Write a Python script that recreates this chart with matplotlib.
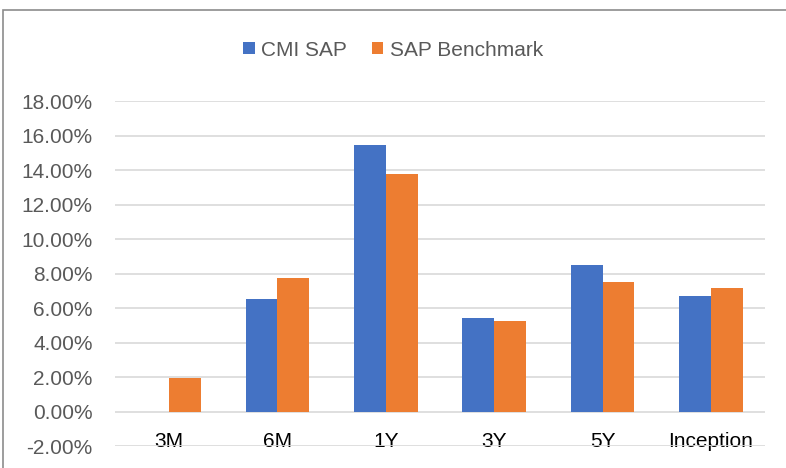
import numpy as np
import matplotlib.pyplot as plt
from matplotlib.patches import Rectangle

plt.rcParams['font.family'] = ['Liberation Sans', 'DejaVu Sans']

periods = ["3M", "6M", "1Y", "3Y", "5Y", "Inception"]
cmi_sap = [np.nan, 6.55, 15.45, 5.42, 8.49, 6.72]
sap_benchmark = [1.96, 7.77, 13.80, 5.25, 7.50, 7.17]
yticks = np.arange(-2, 20, 2)

fig = plt.figure(figsize=(7.86, 4.68), dpi=100)
ax = fig.add_axes([0.1463, 0.047, 0.827, 0.737])

x = np.arange(len(periods))
w = 0.295
ax.bar(x - w/2, cmi_sap, w, color="#4472C4", label="CMI SAP", zorder=3)
ax.bar(x + w/2, sap_benchmark, w, color="#ED7D31", label="SAP Benchmark", zorder=3)

ax.set_ylim(-2, 18)
ax.set_xlim(-0.5, len(periods) - 0.5)
ax.set_yticks(yticks)
ax.set_yticklabels([f"{v:.2f}%" for v in yticks], color="#595959", fontsize=15)
ax.set_xticks(x)
ax.set_xticklabels(periods, fontsize=15, color="#000000")
ax.tick_params(axis='x', length=0, pad=-10)
ax.tick_params(axis='y', length=0, pad=16)
ax.grid(axis='y', color="#D9D9D9", lw=1.2, zorder=0)
for s in ax.spines.values():
    s.set_visible(False)

fig.legend(loc='center', bbox_to_anchor=(0.5, 0.893), ncol=2, frameon=False,
           fontsize=15, handlelength=0.55, handleheight=0.55, handletextpad=0.3,
           columnspacing=1.2, labelcolor="#595959")

fig.patches.append(Rectangle((3/786, -0.1), 1.2, 1 - 10/468 + 0.1,
                             transform=fig.transFigure, fill=False,
                             edgecolor="#8C8C8C", lw=1.2))

fig.savefig("out.png", dpi=100)
